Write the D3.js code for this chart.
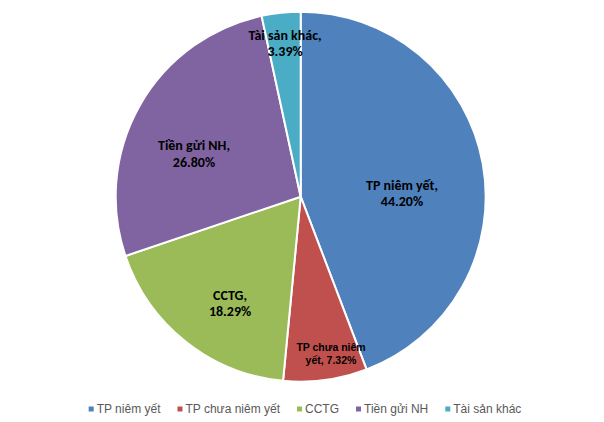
<!DOCTYPE html>
<html>
<head>
<meta charset="utf-8">
<script src="https://cdn.jsdelivr.net/npm/d3@7"></script>
<style>
  body { margin: 0; background: #fff; }
  svg { display: block; }
</style>
</head>
<body>
<svg id="chart"></svg>
<script>
// Chart data
const categories = ["TP niêm yết", "TP chưa niêm yết", "CCTG", "Tiền gửi NH", "Tài sản khác"];
const shares = [44.20, 7.32, 18.29, 26.80, 3.39];
const colors = ["#4F81BD", "#C0504D", "#9BBB59", "#8064A2", "#4BACC6"];

// Label layout (fraction of radius, angle nudge in degrees) to mimic Excel placement
const labelRadius = [0.548, 0.866, 0.69, 0.622, 0.835];
const labelNudge = [8.3, -3.2, -4.8, -7.6, 0.3];

const width = 604, height = 422;
const cx = 300.7, cy = 196.7, radius = 185;

const svg = d3.select("#chart")
    .attr("width", width)
    .attr("height", height);

const data = categories.map((c, i) => ({ name: c, value: shares[i], color: colors[i], i }));

const pie = d3.pie().value(d => d.value).sort(null);
const arc = d3.arc().innerRadius(0).outerRadius(radius);

const arcs = pie(data);

const g = svg.append("g").attr("transform", `translate(${cx},${cy})`);

g.selectAll("path")
    .data(arcs)
    .enter().append("path")
    .attr("d", arc)
    .attr("fill", d => d.data.color)
    .attr("stroke", "#fff")
    .attr("stroke-width", 2)
    .attr("stroke-linejoin", "round");

// Data labels
arcs.forEach(a => {
    const i = a.data.i;
    const mid = (a.startAngle + a.endAngle) / 2 + labelNudge[i] * Math.PI / 180;
    const r = radius * labelRadius[i];
    const x = Math.sin(mid) * r;
    const y = -Math.cos(mid) * r;
    const small = i === 1;
    const fontSize = small ? 10.5 : 14;
    const lineH = small ? 12.7 : 16.5;
    const pct = a.data.value.toFixed(2) + "%";

    const t = g.append("text")
        .attr("text-anchor", "middle")
        .attr("font-family", small ? "Liberation Sans, Arial, sans-serif" : "Carlito, Lato, sans-serif")
        .attr("font-weight", "bold")
        .attr("font-size", fontSize)
        .attr("fill", "#000");

    // wrap the name, then put the value on its own line unless the name wrapped
    const maxW = 74;
    const words = (a.data.name + ",").split(" ");
    const lines = [];
    let line = [];
    const probe = t.append("tspan");
    const fits = s => { probe.text(s); return probe.node().getComputedTextLength() <= maxW; };
    words.forEach(w => {
        line.push(w);
        if (!fits(line.join(" ")) && line.length > 1) {
            line.pop();
            lines.push(line.join(" "));
            line = [w];
        }
    });
    lines.push(line.join(" "));
    if (lines.length > 1 && fits(lines[lines.length - 1] + " " + pct)) {
        lines[lines.length - 1] += " " + pct;
    } else {
        lines.push(pct);
    }
    probe.remove();

    const y0 = y - (lines.length - 1) * lineH / 2;
    lines.forEach((l, k) => {
        t.append("tspan")
            .attr("x", x)
            .attr("y", y0 + k * lineH)
            .attr("dy", "0.35em")
            .text(l);
    });
});

// Legend
const legend = svg.append("g").attr("font-family", "Liberation Sans, Arial, sans-serif")
    .attr("font-size", 12).attr("fill", "#595959");

let lx = 0;
data.forEach(d => {
    const item = legend.append("g");
    item.append("rect")
        .attr("width", 5).attr("height", 5)
        .attr("y", -2.5)
        .attr("fill", d.color);
    const txt = item.append("text")
        .attr("x", 8)
        .attr("dy", "0.35em")
        .text(d.name);
    const w = 8 + txt.node().getComputedTextLength();
    item.attr("transform", `translate(${lx},0)`);
    lx += w + 17;
});
const totalW = lx - 17;
legend.attr("transform", `translate(${(width - totalW) / 2 + 3},409)`);
</script>
</body>
</html>
